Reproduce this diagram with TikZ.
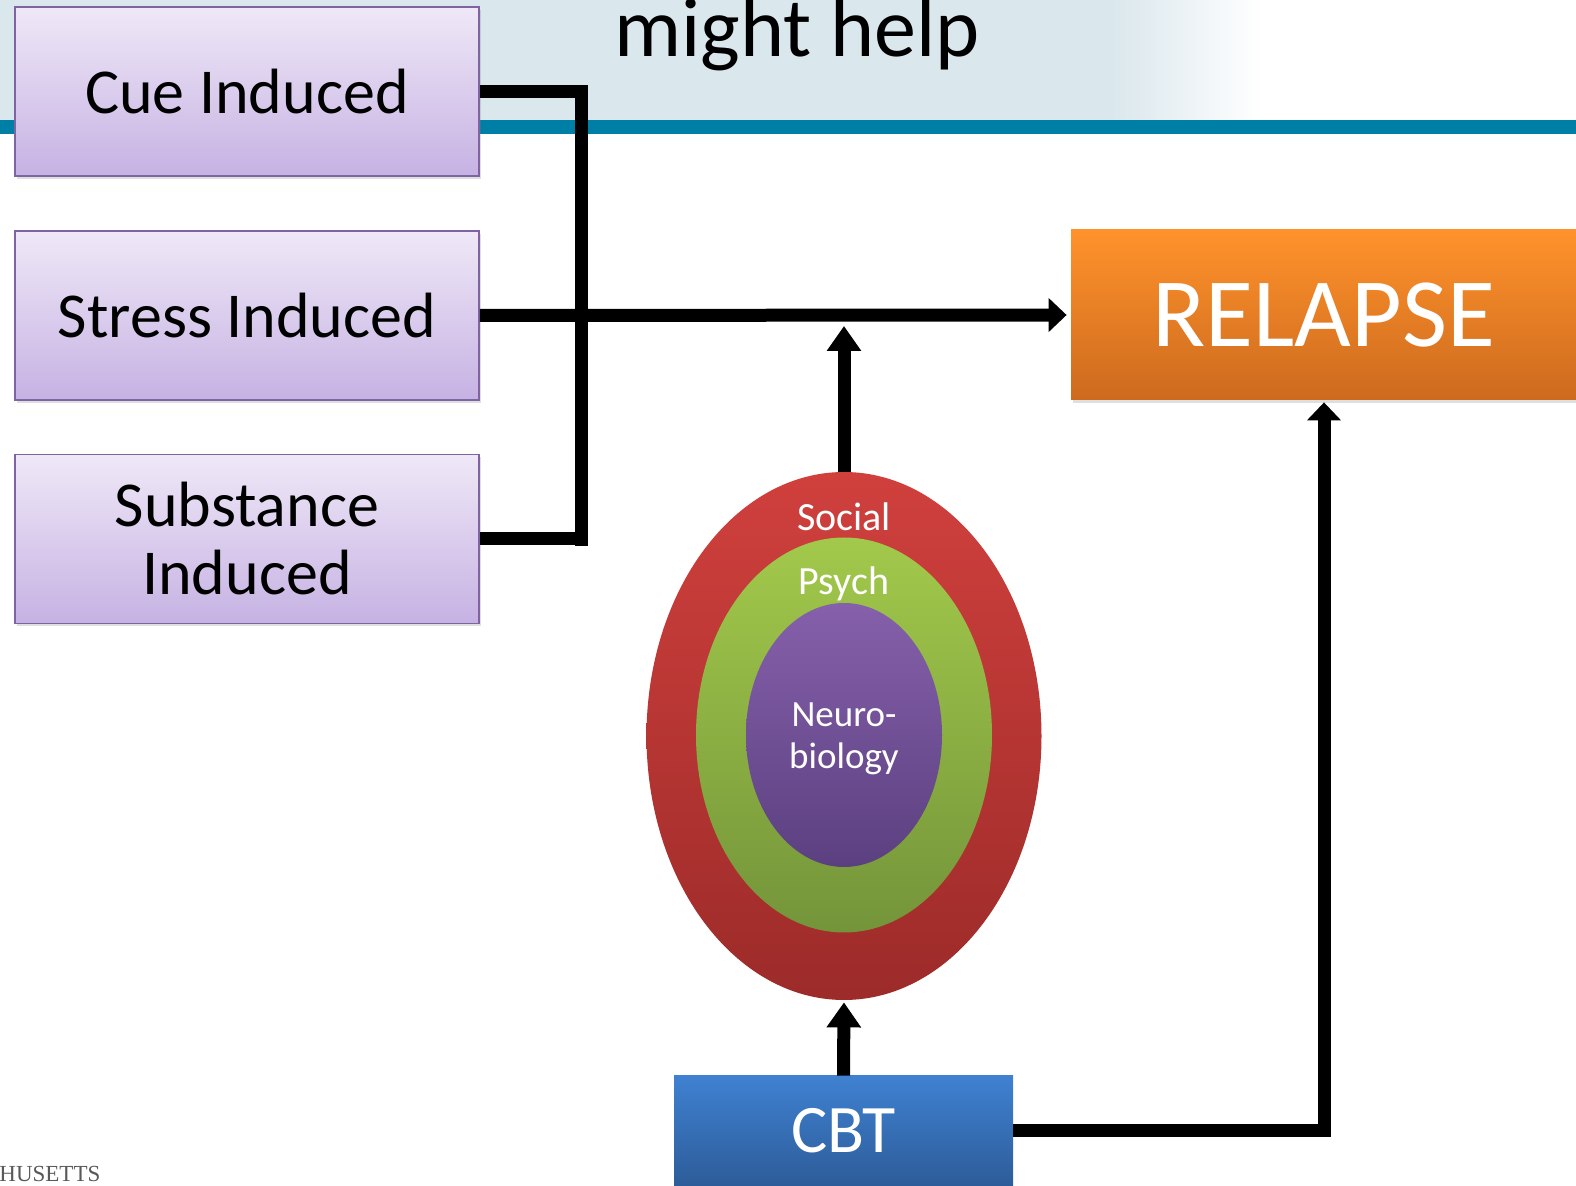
\documentclass[tikz,border=0pt]{standalone}
\usepackage{fontspec}
\setmainfont{Carlito}
\newfontfamily\footfont{Liberation Serif}
\usetikzlibrary{arrows.meta,shapes.geometric,shadows}

\definecolor{hdrbg}{HTML}{DAE7EC}
\definecolor{hdrbar}{HTML}{007FA6}
\definecolor{lavtop}{HTML}{EFE8F7}
\definecolor{lavbot}{HTML}{C6B2E3}
\definecolor{lavedge}{HTML}{8064A2}
\definecolor{orgtop}{HTML}{FF922B}
\definecolor{orgbot}{HTML}{CC6A1E}
\definecolor{redtop}{HTML}{D0403D}
\definecolor{redbot}{HTML}{9C2B29}
\definecolor{grntop}{HTML}{A2C94B}
\definecolor{grnbot}{HTML}{74943A}
\definecolor{purtop}{HTML}{8660AB}
\definecolor{purbot}{HTML}{5B4080}
\definecolor{blutop}{HTML}{3F81D1}
\definecolor{blubot}{HTML}{2D5C99}

\begin{document}
\begin{tikzpicture}[x=0.5pt,y=-0.5pt,
		trigger/.style={draw=lavedge, line width=0.8pt, top color=lavtop, bottom color=lavbot,
			minimum width=232pt, minimum height=84.5pt, inner sep=0pt, align=center,
			font=\fontsize{32}{34}\selectfont,
			drop shadow={opacity=0.25, shadow xshift=1pt, shadow yshift=-1.5pt}},
		ring/.style={ellipse, inner sep=0pt},
		lbl/.style={text=white, inner sep=0pt, align=center, font=\fontsize{20}{22}\selectfont},
		conn/.style={line width=6.5pt},
		tip/.style={-{Triangle[length=9pt,width=16.5pt]}},
		bigtip/.style={-{Triangle[length=12.5pt,width=16.5pt]}}]
		\useasboundingbox (0,0) rectangle (1576,1186);
		
		% Header
		\fill[hdrbg] (0,0) rectangle (1110,120);
		\shade[left color=hdrbg, right color=white] (1110,0) rectangle (1262,120);
		\fill[hdrbar] (0,120) rectangle (1576,134);
		\node[anchor=base, inner sep=0pt, font=\fontsize{42}{44}\selectfont] (title) at (797,57) {might help};
		
		% Triggers
		\node[trigger] (cue) at (247,91.5) {Cue Induced};
		\node[trigger] (stress) at (247,315.5) {Stress Induced};
		\node[trigger] (subst) at (247,539) {Substance\\Induced};
		
		% Relapse
		\node[fill=orgtop, top color=orgtop, bottom color=orgbot, minimum width=253pt, minimum height=85pt,
			text=white, font=\fontsize{49}{52}\selectfont,
			drop shadow={opacity=0.25, shadow xshift=1pt, shadow yshift=-1.5pt}] (relapse) at (1324,315) {RELAPSE};
		
		% Rings
		\node[ring, top color=redtop, bottom color=redbot, minimum width=197.5pt, minimum height=264pt] (social) at (844,736) {};
		\node[ring, top color=grntop, bottom color=grnbot, minimum width=148pt, minimum height=197.5pt] (psych) at (844,735) {};
		\node[ring, top color=purtop, bottom color=purbot, minimum width=98pt, minimum height=132pt] (neuro) at (844,735) {};
		\node[lbl] (soclbl) at (844,517) {Social};
		\node[lbl] (psylbl) at (844,584) {Psych};
		\node[lbl, font=\fontsize{18.5}{21}\selectfont] (neurolbl) at (844,739) {Neuro-\\biology};
		
		% CBT
		\node[top color=blutop, bottom color=blubot, minimum width=169.5pt, minimum height=55pt,
			text=white, font=\fontsize{34}{36}\selectfont] (cbt) at (843.5,1131) {CBT};
		
		% Connectors
		\coordinate (bus) at (581,546);
		\coordinate (hub) at (844,326);
		\draw[conn] (cue.east) -| (bus);
		\draw[conn] (subst.east) -- (subst.east -| bus);
		\draw[conn, tip, shorten >=2pt] (stress.east) -- (relapse.west);
		\draw[conn, bigtip] (social.north) -- (hub);
		\draw[conn, bigtip, shorten >=1pt] (cbt.north) -- (social.south);
		\draw[conn, tip, shorten >=1pt] (cbt.east) -| (relapse.south);
		
		% Footer
		\node[anchor=base west, inner sep=0pt, text=black!65, font=\footfont\fontsize{11.5}{12}\selectfont] (uni) at (-1,1182) {HUSETTS};
	\end{tikzpicture}
\end{document}
